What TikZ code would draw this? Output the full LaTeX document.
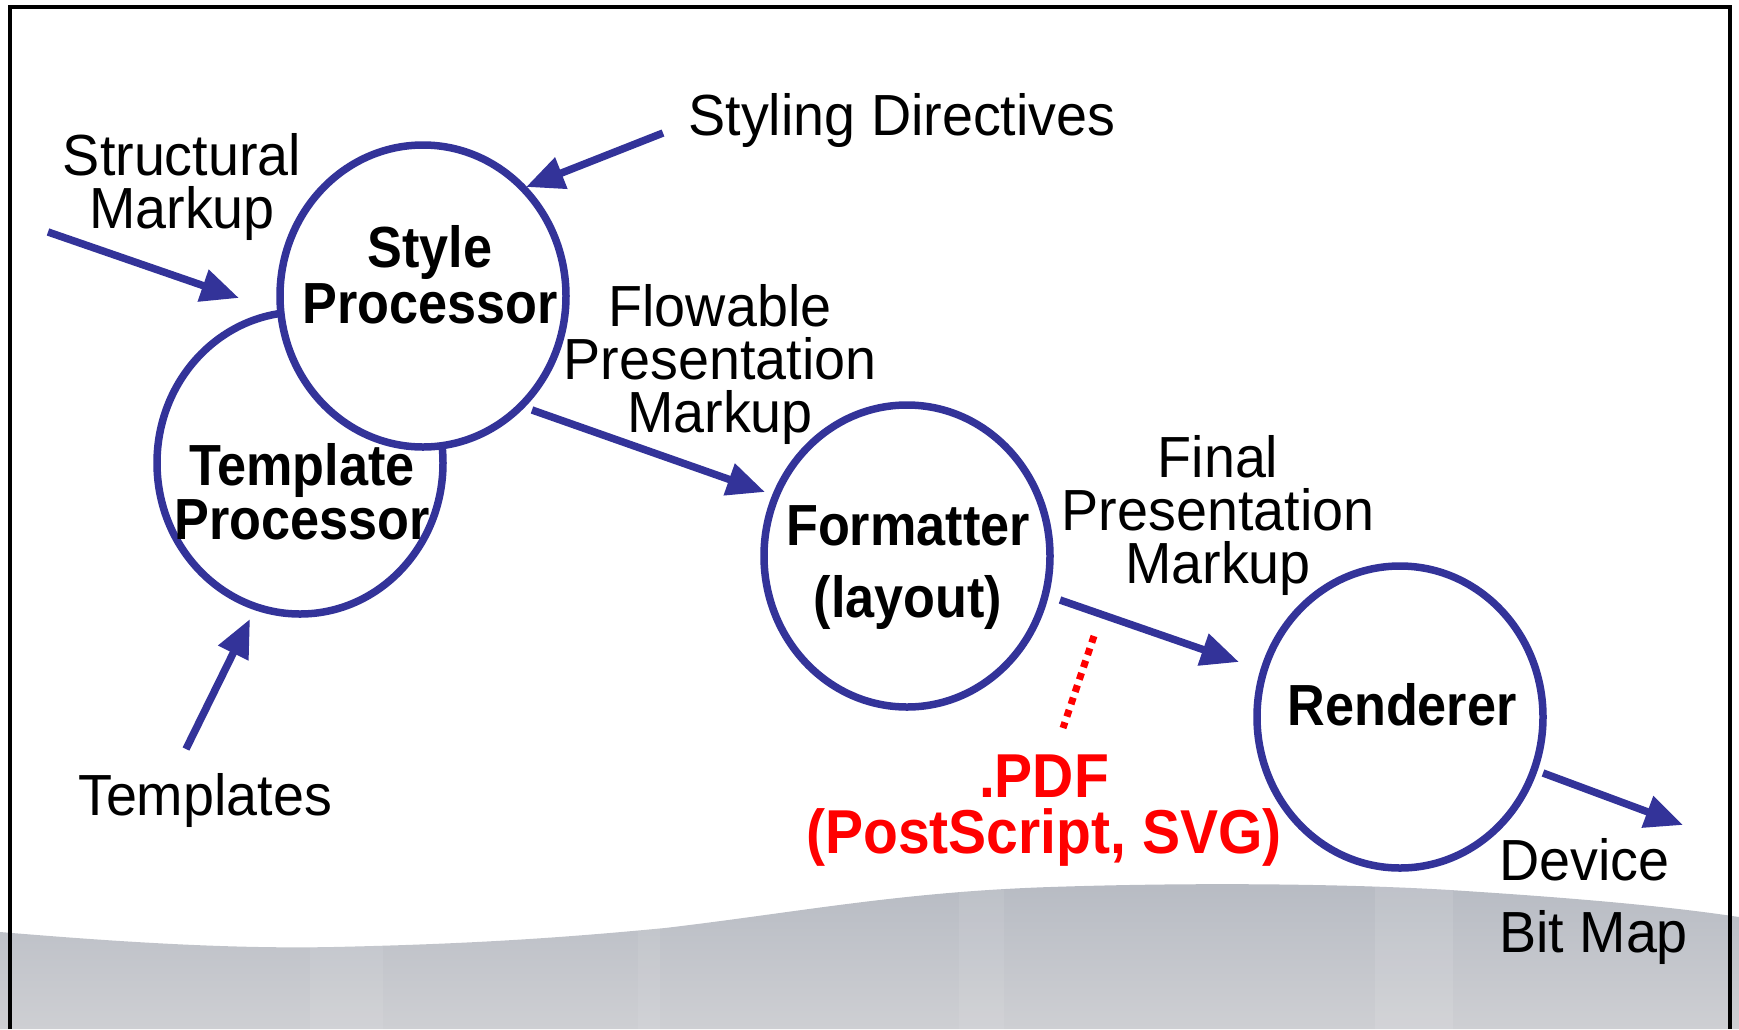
\documentclass[tikz,border=0pt]{standalone}
\usepackage{fontspec}
\usetikzlibrary{arrows.meta,shapes.geometric}
\setmainfont{Liberation Sans}[FakeStretch=0.96]
\newfontfamily\bnarrow{Liberation Sans}[FakeStretch=0.9]
\newfontfamily\rednarrow{Liberation Sans}[FakeStretch=0.92]
\definecolor{procblue}{RGB}{51,51,153}
\definecolor{pdfred}{RGB}{255,0,0}
\definecolor{graytop}{RGB}{183,187,195}
\definecolor{graybot}{RGB}{206,207,211}
\newcommand\mlines[2]{\vtop{\baselineskip=#1pt\lineskiplimit=-1000pt\lineskip=0pt\halign{\hfil##\hfil\cr#2\crcr}}}
\newcommand\mlinesleft[2]{\vtop{\baselineskip=#1pt\lineskiplimit=-1000pt\lineskip=0pt\halign{##\hfil\cr#2\crcr}}}
\tikzset{
  proc/.style={draw=procblue, line width=7.5pt, ellipse, minimum width=286pt, minimum height=302pt, inner sep=0pt},
  flowarrow/.style={draw=procblue, line width=7.5pt, -{Triangle[length=38pt,width=32pt]}},
  lbl/.style={anchor=base, inner sep=0pt, font=\fontsize{58}{58}\selectfont},
  blbl/.style={anchor=base, inner sep=0pt, font=\fontsize{58}{58}\bnarrow\bfseries},
  rlbl/.style={anchor=base, inner sep=0pt, text=pdfred, font=\fontsize{62}{62}\rednarrow\bfseries},
  pdfdots/.style={draw=pdfred, line width=7pt, dash pattern=on 7pt off 6pt}
}
\begin{document}
\begin{tikzpicture}[x=1pt,y=-1pt]
\useasboundingbox (0,0) rectangle (1739,1029);
% background wave
\begin{scope}
\clip (0,932) .. controls (120,942) and (230,949) .. (333,947)
  .. controls (470,944) and (560,938) .. (665,928)
  .. controls (800,912) and (900,892) .. (1050,887)
  .. controls (1200,882) and (1350,884) .. (1450,890)
  .. controls (1560,897) and (1660,905) .. (1739,917)
  -- (1739,1029) -- (0,1029) -- cycle;
\shade[top color=graytop, bottom color=graybot] (0,880) rectangle (1739,1029);
\fill[white, opacity=0.08] (310,880) rectangle (383,1029);
\fill[white, opacity=0.07] (638,880) rectangle (660,1029);
\fill[white, opacity=0.08] (959,880) rectangle (1004,1029);
\fill[white, opacity=0.1] (1375,880) rectangle (1453,1029);
\end{scope}
% frame
\draw[line width=4pt] (9.5,1029) -- (9.5,7) -- (1730,7) -- (1730,1029);
% processors
\node[proc] (tp) at (300,463) {};
\node[proc, fill=white] (sp) at (423,296) {};
\node[proc] (fm) at (907,556) {};
\node[proc] (rd) at (1400,717) {};
% labels in circles
\node[blbl] (sptext) at (430,267) {\mlines{56}{Style\cr Processor}};
\node[blbl] (tptext) at (302,485) {\mlines{54}{Template\cr Processor}};
\node[blbl] (fmtext) at (908,545) {\mlines{72}{Formatter\cr (layout)}};
\node[blbl] (rdtext) at (1402,725) {Renderer};
% other labels
\node[lbl] (styl) at (902,135) {Styling Directives};
\node[lbl] (struct) at (182,175) {\mlines{53}{Structural\cr Markup}};
\node[lbl] (flow) at (720,326) {\mlines{53}{Flowable\cr Presentation\cr Markup}};
\node[lbl] (final) at (1218,477) {\mlines{53}{Final\cr Presentation\cr Markup}};
\node[lbl] (tmpl) at (205,815) {Templates};
\node[lbl, anchor=base west] (dev) at (1499,880) {\mlinesleft{72}{Device\cr Bit Map}};
\node[rlbl] (pdf) at (1044,797) {\mlines{56}{.PDF\cr (PostScript, SVG)}};
% connector end points
\coordinate (a1s) at (48,232);   \coordinate (a1e) at (239,298);
\coordinate (a2s) at (663,133);  \coordinate (a2e) at (526,187);
\coordinate (a3s) at (186,749);  \coordinate (a3e) at (250,619);
\coordinate (a4s) at (532,410);  \coordinate (a4e) at (765,492);
\coordinate (a5s) at (1060,600); \coordinate (a5e) at (1239,662);
\coordinate (a6s) at (1543,773); \coordinate (a6e) at (1683,825);
\coordinate (d1) at (1094,636);  \coordinate (d2) at (1063,728);
% arrows
\draw[flowarrow] (a1s) -- (a1e);
\draw[flowarrow] (a2s) -- (a2e);
\draw[flowarrow] (a3s) -- (a3e);
\draw[flowarrow] (a4s) -- (a4e);
\draw[flowarrow] (a5s) -- (a5e);
\draw[flowarrow] (a6s) -- (a6e);
\draw[pdfdots] (d1) -- (d2);
\end{tikzpicture}
\end{document}
